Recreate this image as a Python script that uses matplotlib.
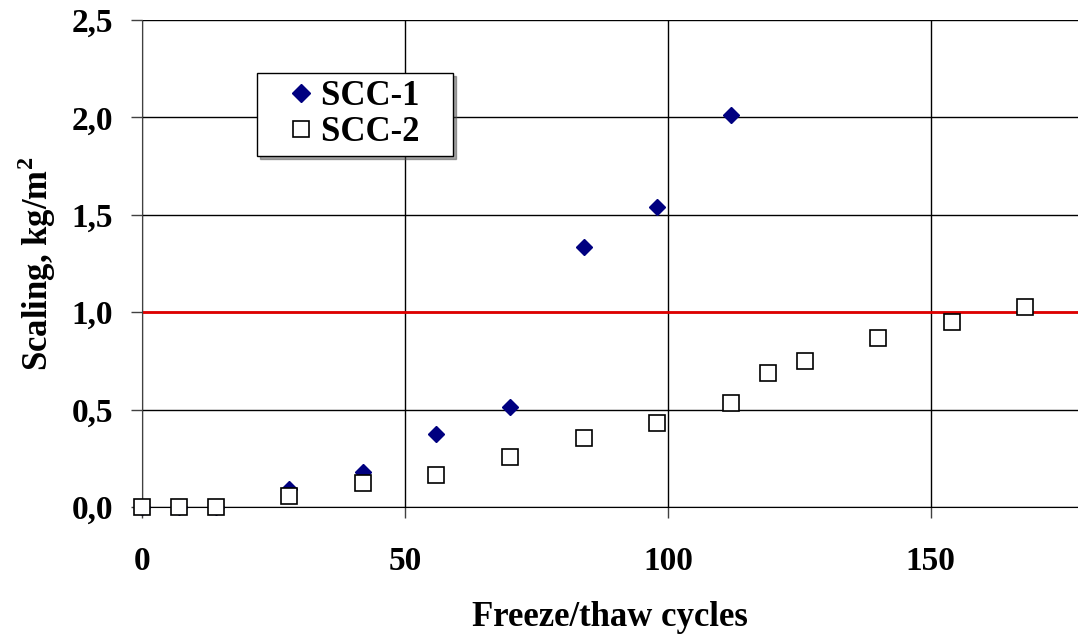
import matplotlib
matplotlib.use("Agg")
import matplotlib.pyplot as plt
from matplotlib.ticker import FuncFormatter, MultipleLocator

scc1_x = [0, 7, 14, 28, 42, 56, 70, 84, 98, 112]
scc1_y = [0.0, 0.0, 0.0, 0.09, 0.18, 0.375, 0.513, 1.335, 1.54, 2.01]
scc2_x = [0, 7, 14, 28, 42, 56, 70, 84, 98, 112, 119, 126, 140, 154, 168]
scc2_y = [0.0, 0.0, 0.0, 0.058, 0.123, 0.165, 0.257, 0.354, 0.43, 0.534, 0.69, 0.75, 0.868, 0.952, 1.028]
limit_y = 1.0

plt.rcParams['font.family'] = ['Liberation Serif', 'DejaVu Serif']
plt.rcParams['font.weight'] = 'bold'
plt.rcParams['mathtext.fontset'] = 'custom'
plt.rcParams['mathtext.rm'] = 'Liberation Serif:bold'
plt.rcParams['mathtext.bf'] = 'Liberation Serif:bold'

fig = plt.figure(figsize=(10.78, 6.37), dpi=100)
ax = fig.add_axes([142/1078, 130/637, 936/1078, 487/637])

ax.set_xlim(0, 178)
ax.set_ylim(0, 2.5)
ax.xaxis.set_major_locator(MultipleLocator(50))
ax.yaxis.set_major_locator(MultipleLocator(0.5))
ax.grid(True, color='black', linewidth=1.0)
ax.set_axisbelow(True)

ax.axhline(limit_y, color='#e00000', linewidth=2, zorder=2)

ax.plot(scc1_x, scc1_y, linestyle='none', marker='D', markersize=8,
        color='#000080', markeredgecolor='#000080', label='SCC-1   ', zorder=3, clip_on=False)
ax.plot(scc2_x, scc2_y, linestyle='none', marker='s', markersize=11,
        markerfacecolor='white', markeredgecolor='black', markeredgewidth=1.2,
        label='SCC-2   ', zorder=4, clip_on=False)

for s in ['top', 'right']:
    ax.spines[s].set_visible(False)
ax.spines['left'].set_color('#404040')
ax.spines['bottom'].set_color('black')

ax.yaxis.set_major_formatter(FuncFormatter(lambda v, p: f"{v:.1f}".replace('.', ',')))
ax.tick_params(axis='both', direction='out', length=8, width=1, labelsize=24, color='#404040')
ax.tick_params(axis='x', pad=20)
ax.tick_params(axis='y', pad=13)
for lab in ax.get_xticklabels() + ax.get_yticklabels():
    lab.set_fontweight('bold')

ax.set_xlabel('Freeze/thaw cycles', fontsize=25, fontweight='bold', labelpad=17)
ax.set_ylabel('Scaling, kg/m$^{2}$', fontsize=25, fontweight='bold')
ax.yaxis.set_label_coords(-0.09, 0.5)

leg = ax.legend(loc='upper left', bbox_to_anchor=(0.123, 0.891), fancybox=False, shadow=True,
                edgecolor='black', framealpha=1, prop={'size': 25, 'weight': 'bold'},
                handletextpad=-0.45, borderpad=0.2, labelspacing=0.1, handlelength=2.1,
                borderaxespad=0, markerscale=1.1)
leg.get_frame().set_linewidth(1.0)

fig.savefig('out.png', dpi=100)
